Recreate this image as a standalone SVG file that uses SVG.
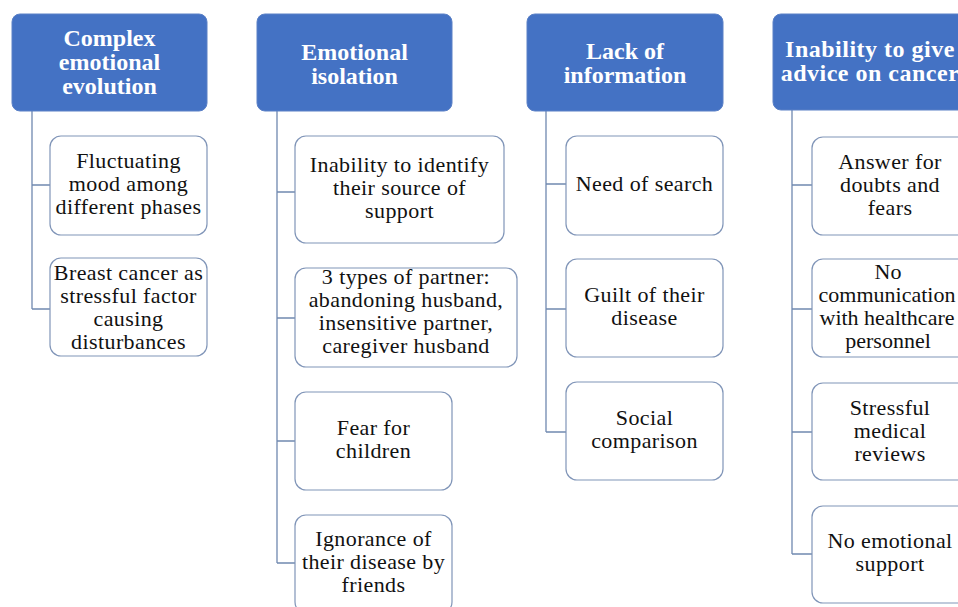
<svg xmlns="http://www.w3.org/2000/svg" width="958" height="607" viewBox="0 0 958 607">
<style>
.hdr{fill:#4472C4;stroke:#5A80C6;stroke-width:1}
.box{fill:#FFFFFF;stroke:#8095B8;stroke-width:1.2}
.conn{fill:none;stroke:#7089B0;stroke-width:1.3}
</style>
<rect width="958" height="607" fill="#FFFFFF"/>
<g id="connectors">
<path class="conn" d="M32 111 V309 M32 185 H50 M32 309 H50"/>
<path class="conn" d="M277 111 V563 M277 192 H295 M277 318 H295 M277 441 H295 M277 563 H295"/>
<path class="conn" d="M546 111 V432 M546 184 H566 M546 309 H566 M546 432 H566"/>
<path class="conn" d="M792 110 V554 M792 185 H812 M792 309 H812 M792 432 H812 M792 554 H812"/>
</g>
<g font-family="Liberation Serif, Times New Roman, serif" font-size="24" font-weight="bold" fill="#FFFFFF" text-anchor="middle">
<g id="h1"><rect class="hdr" x="12" y="14" width="195" height="97" rx="8"/>
<text><tspan x="109.5" y="46">Complex</tspan><tspan x="109.5" y="70">emotional</tspan><tspan x="109.5" y="94">evolution</tspan></text></g>
<g id="h2"><rect class="hdr" x="257" y="14" width="195" height="97" rx="8"/>
<text><tspan x="354.5" y="60">Emotional</tspan><tspan x="354.5" y="84">isolation</tspan></text></g>
<g id="h3"><rect class="hdr" x="527" y="14" width="196" height="97" rx="8"/>
<text><tspan x="625" y="59">Lack of</tspan><tspan x="625" y="83">information</tspan></text></g>
<g id="h4"><rect class="hdr" x="773" y="14" width="200" height="96" rx="8"/>
<text letter-spacing="0.5"><tspan x="870" y="57">Inability to give</tspan><tspan x="870" y="81">advice on cancer</tspan></text></g>
</g>
<g font-family="Liberation Serif, Times New Roman, serif" font-size="22" fill="#111111" text-anchor="middle" letter-spacing="0.4">
<g id="c1a"><rect class="box" x="50" y="136" width="157" height="99" rx="11"/>
<text><tspan x="128.5" y="168">Fluctuating</tspan><tspan x="128.5" y="191">mood among</tspan><tspan x="128.5" y="214">different phases</tspan></text></g>
<g id="c1b"><rect class="box" x="50" y="258" width="157" height="98" rx="11"/>
<text><tspan x="128.5" y="280">Breast cancer as</tspan><tspan x="128.5" y="303">stressful factor</tspan><tspan x="128.5" y="326">causing</tspan><tspan x="128.5" y="349">disturbances</tspan></text></g>
<g id="c2a"><rect class="box" x="295" y="136" width="209" height="107" rx="11"/>
<text><tspan x="399.5" y="172">Inability to identify</tspan><tspan x="399.5" y="195">their source of</tspan><tspan x="399.5" y="218">support</tspan></text></g>
<g id="c2b"><rect class="box" x="295" y="268" width="222" height="99" rx="11"/>
<text><tspan x="406" y="284">3 types of partner:</tspan><tspan x="406" y="307">abandoning husband,</tspan><tspan x="406" y="330">insensitive partner,</tspan><tspan x="406" y="353">caregiver husband</tspan></text></g>
<g id="c2c"><rect class="box" x="295" y="392" width="157" height="98" rx="11"/>
<text><tspan x="373.5" y="435">Fear for</tspan><tspan x="373.5" y="458">children</tspan></text></g>
<g id="c2d"><rect class="box" x="295" y="515" width="157" height="98" rx="11"/>
<text><tspan x="373.5" y="546">Ignorance of</tspan><tspan x="373.5" y="569">their disease by</tspan><tspan x="373.5" y="592">friends</tspan></text></g>
<g id="c3a"><rect class="box" x="566" y="136" width="157" height="99" rx="11"/>
<text x="644.5" y="191">Need of search</text></g>
<g id="c3b"><rect class="box" x="566" y="259" width="157" height="98" rx="11"/>
<text><tspan x="644.5" y="302">Guilt of their</tspan><tspan x="644.5" y="325">disease</tspan></text></g>
<g id="c3c"><rect class="box" x="566" y="382" width="157" height="98" rx="11"/>
<text><tspan x="644.5" y="425">Social</tspan><tspan x="644.5" y="448">comparison</tspan></text></g>
<g id="c4a"><rect class="box" x="812" y="137" width="170" height="98" rx="11"/>
<text><tspan x="890" y="169">Answer for</tspan><tspan x="890" y="192">doubts and</tspan><tspan x="890" y="215">fears</tspan></text></g>
<g id="c4b"><rect class="box" x="812" y="259" width="170" height="98" rx="11"/>
<text letter-spacing="0"><tspan x="888" y="279">No</tspan><tspan x="887" y="302">communication</tspan><tspan x="887" y="325">with healthcare</tspan><tspan x="888" y="348">personnel</tspan></text></g>
<g id="c4c"><rect class="box" x="812" y="383" width="170" height="97" rx="11"/>
<text><tspan x="890" y="415">Stressful</tspan><tspan x="890" y="438">medical</tspan><tspan x="890" y="461">reviews</tspan></text></g>
<g id="c4d"><rect class="box" x="812" y="506" width="170" height="97" rx="11"/>
<text><tspan x="890" y="548">No emotional</tspan><tspan x="890" y="571">support</tspan></text></g>
</g>
</svg>
